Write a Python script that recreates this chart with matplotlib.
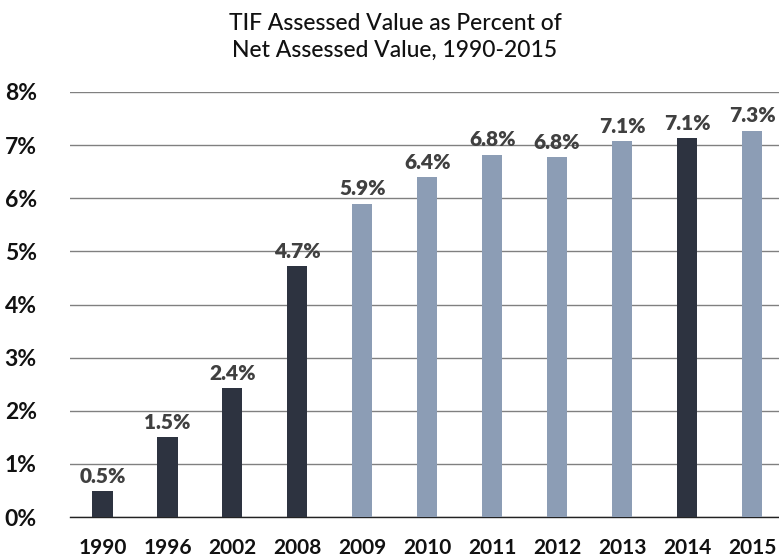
import matplotlib
matplotlib.use("Agg")
import matplotlib.pyplot as plt

years = ["1990", "1996", "2002", "2008", "2009", "2010", "2011", "2012", "2013", "2014", "2015"]
values = [0.49, 1.5, 2.42, 4.72, 5.9, 6.4, 6.82, 6.77, 7.08, 7.13, 7.27]
labels = ["0.5%", "1.5%", "2.4%", "4.7%", "5.9%", "6.4%", "6.8%", "6.8%", "7.1%", "7.1%", "7.3%"]
dark_years = {"1990", "1996", "2002", "2008", "2014"}

DARK = "#2d3340"
LIGHT = "#8c9db5"

plt.rcParams['font.family'] = ['Lato', 'DejaVu Sans']

fig = plt.figure(figsize=(7.79, 5.6), dpi=100)
ax = fig.add_axes([70/779, 1 - 517/560, 709/779, (517 - 92)/560])

x = list(range(len(years)))
colors = [DARK if y in dark_years else LIGHT for y in years]
ax.bar(x, values, width=0.31, color=colors, zorder=3)

for xi, v, lab in zip(x, values, labels):
    ax.text(xi, v + 0.1, lab, ha='center', va='bottom', fontsize=15,
            fontweight='heavy', color='#404040', zorder=4)

ax.set_ylim(0, 8)
ax.set_xlim(-0.5, 10.415)
ax.set_yticks(range(0, 9))
ax.set_yticklabels([f"{i}%" for i in range(0, 9)], fontsize=16.5, fontweight='bold', color='#111111')
ax.set_xticks(x)
ax.set_xticklabels(years, fontsize=15, fontweight='bold', color='#111111')
ax.tick_params(axis='both', length=0)
ax.tick_params(axis='y', pad=24)
ax.tick_params(axis='x', pad=15)
ax.grid(axis='y', color='#808080', linewidth=1.0, zorder=0)
for s in ['left', 'right', 'top']:
    ax.spines[s].set_visible(False)
ax.spines['bottom'].set_color('#222222')
ax.spines['bottom'].set_linewidth(1.0)

fig.text(395/779, 1 - 37/560, "TIF Assessed Value as Percent of\nNet Assessed Value, 1990-2015",
         ha='center', va='center', fontsize=16.5, fontweight='medium', color='#111111', linespacing=1.35)

fig.savefig("out.png", dpi=100)
